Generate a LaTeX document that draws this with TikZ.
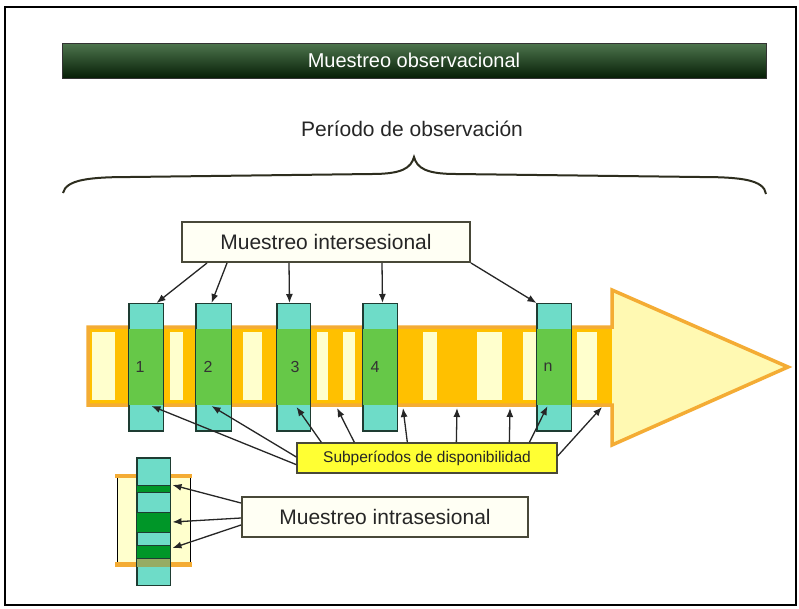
\documentclass[tikz,border=0pt]{standalone}
\usepackage{fontspec}
\setmainfont{Liberation Sans}
\usetikzlibrary{arrows.meta,calc}
\definecolor{tealc}{RGB}{110,220,200}
\definecolor{greenc}{RGB}{102,200,72}
\definecolor{orngc}{RGB}{255,192,0}
\definecolor{orngb}{RGB}{244,172,52}
\definecolor{creamc}{RGB}{255,255,205}
\definecolor{headc}{RGB}{255,249,178}
\definecolor{boxf}{RGB}{255,255,244}
\definecolor{boxb}{RGB}{72,72,56}
\definecolor{ylwc}{RGB}{255,255,51}
\definecolor{dkgc}{RGB}{0,150,40}
\definecolor{olivec}{RGB}{150,172,100}
\definecolor{gline}{RGB}{30,60,50}
\tikzset{
  lbox/.style={draw=boxb, fill=boxf, line width=2pt, inner sep=0pt, text=black!85,
    font=\fontsize{21}{24}\selectfont},
  gbox/.style={fill=tealc, draw=gline, line width=1pt, minimum width=34pt,
    minimum height=127pt, inner sep=0pt},
  gframe/.style={draw=gline, line width=1pt},
  numlbl/.style={font=\fontsize{16}{18}\selectfont, text=black!80, inner sep=0pt},
  arr/.style={-{Latex[length=9pt,width=7pt]}, line width=1.3pt, draw=black!85},
}
\begin{document}
\begin{tikzpicture}[x=1pt,y=-1pt]
\useasboundingbox (0,0) rectangle (799,608);
\fill[white] (0,0) rectangle (799,608);
\draw[line width=2.5pt] (5,7) rectangle (796,605);

% title bar
\node[minimum width=704pt, minimum height=35pt, inner sep=0pt,
  top color={rgb,255:red,78;green,118;blue,78}, bottom color={rgb,255:red,6;green,30;blue,6},
  draw=black!80, line width=0.8pt, text=white, font=\fontsize{20}{24}\selectfont]
  (title) at (414,60.5) {Muestreo observacional};

\node[font=\fontsize{21}{25}\selectfont, text=black!85] (period) at (412,129) {Período de observación};

% brace
\draw[line width=2pt, draw={rgb,255:red,45;green,45;blue,30}]
  (63,193) .. controls (66,180) and (88,177) .. (130,177)
  -- (372,174) .. controls (402,174) and (411,168) .. (414,157)
  .. controls (417,168) and (426,174) .. (456,174)
  -- (700,177) .. controls (742,177) and (764,180) .. (766,194);

% big arrow
\fill[headc] (612,290) -- (788,367) -- (612,445) -- cycle;
\fill[orngc] (88,327) rectangle (612,405);
\foreach \a/\b in {92/115,170/183,243/262,317/328,343/355,423/437,477/502,523/537,577/597}
  \fill[creamc] (\a,332) rectangle (\b,400);
\draw[orngb, line width=3.5pt, line join=miter]
  (88,327) -- (612,327) -- (612,290) -- (788,367) -- (612,445) -- (612,405) -- (88,405) -- cycle;

% session boxes
\foreach \n/\x/\w in {b1/146/34,b2/213.5/35,b3/293.5/33,b4/380/34,bn/554/34} {
  \node[gbox, minimum width=\w pt] (\n) at (\x,367) {};
  \fill[greenc] (\x-\w/2,328.5) rectangle (\x+\w/2,404.5);
  \draw[gframe] (\n.south west) rectangle (\n.north east);
}
\node[numlbl] (l1) at (140,367) {1};
\node[numlbl] (l2) at (208,367) {2};
\node[numlbl] (l3) at (295,367) {3};
\node[numlbl] (l4) at (375,367) {4};
\node[numlbl] (ln) at (548,367) {n};

% intersesional
\node[lbox, minimum width=288pt, minimum height=40pt] (inter) at (326,242) {Muestreo intersesional};
\draw[arr] ($(inter.south west)+(26,0)$) -- ($(b1.north west)+(28,0)$);
\draw[arr] ($(inter.south west)+(46,0)$) -- ($(b2.north west)+(16,0)$);
\draw[arr] ($(inter.south west)+(108,0)$) -- ($(b3.north west)+(13,0)$);
\draw[arr] ($(inter.south west)+(201,0)$) -- ($(b4.north west)+(20,0)$);
\draw[arr] (inter.south east) -- ($(bn.north west)+(0,0)$);

% subperiodos
\coordinate (s1) at (337,408);
\coordinate (s2) at (403,408);
\coordinate (s3) at (457,408);
\coordinate (s4) at (510,408);
\coordinate (s5) at (602,407);
\node[fill=ylwc, draw=boxb, line width=1.3pt, minimum width=260pt, minimum height=30pt,
  inner sep=0pt, font=\fontsize{15.5}{18}\selectfont, text=black!85] (sub) at (427,458)
  {Subperíodos de disponibilidad};
\draw[arr] ($(sub.south west)+(0,-9)$) -- ($(b1.south west)+(23,-25)$);
\draw[arr] ($(sub.west)+(0,-1)$) -- ($(b2.south west)+(16,-25)$);
\draw[arr] ($(sub.north west)+(25,0)$) -- ($(b3.south west)+(20,-24)$);
\draw[arr] ($(sub.north west)+(58,0)$) -- (s1);
\draw[arr] ($(sub.north west)+(111,0)$) -- (s2);
\draw[arr] ($(sub.north west)+(160,0)$) -- (s3);
\draw[arr] ($(sub.north west)+(213,0)$) -- (s4);
\draw[arr] ($(sub.north west)+(233,0)$) -- ($(bn.south west)+(11,-25)$);
\draw[arr] ($(sub.east)+(0,-2)$) -- (s5);

% mini session
\fill[creamc] (117,476) rectangle (190,564);
\draw[line width=1pt] (117,476) -- (117,564);
\draw[line width=1pt] (190,476) -- (190,564);
\fill[orngb] (115,473.5) rectangle (192,478);
\fill[orngb] (115,562) rectangle (192,567);
\node[gbox, minimum width=33pt] (strip) at (153.5,521.5) {};
\fill[dkgc] (137,485) rectangle (170,492);
\fill[dkgc] (137,512) rectangle (170,532);
\fill[dkgc] (137,545) rectangle (170,558);
\fill[olivec] (137,558) rectangle (170,567);
\draw[gframe] (strip.south west) rectangle (strip.north east);
\draw[line width=0.6pt, draw=gline] (137,485) -- (170,485) (137,492) -- (170,492)
  (137,512) -- (170,512) (137,532) -- (170,532) (137,545) -- (170,545) (137,558) -- (170,558);

\node[lbox, minimum width=286pt, minimum height=40pt] (intra) at (385,517) {Muestreo intrasesional};
\draw[arr] ($(intra.west)+(0,-14)$) -- ($(strip.east)+(2,-36.5)$);
\draw[arr] ($(intra.west)+(0,1)$) -- ($(strip.east)+(2,0.5)$);
\draw[arr] ($(intra.west)+(0,8)$) -- ($(strip.east)+(2,26.5)$);
\end{tikzpicture}
\end{document}
